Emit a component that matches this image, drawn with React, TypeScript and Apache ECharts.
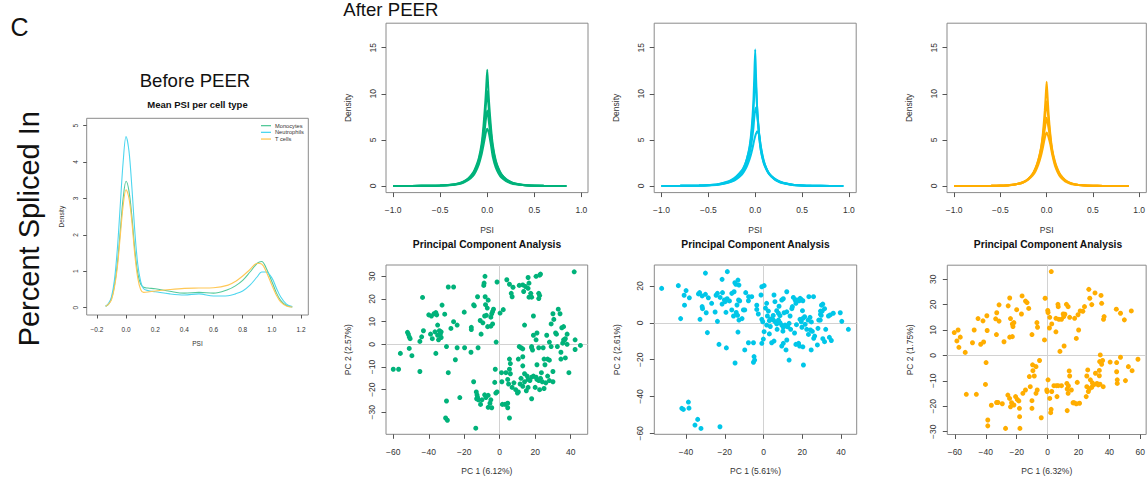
import { useEffect, useRef } from "react";
import * as echarts from "echarts";

const FONT = '"Liberation Sans", Arial, Helvetica, sans-serif';
const GREEN = "#00b27a";
const CYAN = "#00c6e8";
const ORANGE = "#ffad00";

// ---- Before PEER: density of mean PSI per cell type
const beforePsi = [
  -0.14, -0.12, -0.1, -0.08, -0.06, -0.04, -0.02, 0, 0.02, 0.04, 0.06, 0.08, 0.1, 0.12, 0.15, 0.2,
  0.3, 0.4, 0.5, 0.6, 0.7, 0.75, 0.8, 0.85, 0.9, 0.93, 0.96, 1.0, 1.03, 1.06, 1.1, 1.14,
];
const monocytesMean = [
  0.04, 0.1, 0.25, 0.6, 1.2, 2.1, 3.0, 3.47, 3.2, 2.5, 1.6, 0.95, 0.65, 0.56, 0.54, 0.52,
  0.45, 0.4, 0.42, 0.4, 0.5, 0.6, 0.75, 0.98, 1.22, 1.27, 1.1, 0.72, 0.42, 0.2, 0.06, 0.02,
];
const neutrophilsMean = [
  0.04, 0.12, 0.3, 0.75, 1.6, 2.8, 4.0, 4.7, 4.3, 3.3, 2.1, 1.2, 0.72, 0.52, 0.47, 0.44,
  0.38, 0.35, 0.38, 0.32, 0.33, 0.38, 0.46, 0.62, 0.85, 0.98, 0.98, 0.82, 0.55, 0.3, 0.1, 0.03,
];
const tCellsMean = [
  0.04, 0.1, 0.22, 0.55, 1.1, 1.95, 2.8, 3.24, 3.0, 2.35, 1.45, 0.82, 0.5, 0.42, 0.43, 0.46,
  0.5, 0.53, 0.54, 0.55, 0.62, 0.72, 0.87, 1.05, 1.22, 1.2, 1.0, 0.62, 0.35, 0.16, 0.05, 0.02,
];
const beforeXTicks = [-0.2, 0, 0.2, 0.4, 0.6, 0.8, 1.0, 1.2];
const beforeYTicks = [0, 1, 2, 3, 4, 5];

// ---- After PEER: per-sample PSI densities (representative curves)
const psiMonocytes = [
  -1, -0.8, -0.6, -0.5, -0.4, -0.3, -0.25, -0.2, -0.15, -0.12, -0.09, -0.06, -0.04, -0.02, -0.01, 0,
  0.01, 0.02, 0.04, 0.06, 0.09, 0.12, 0.15, 0.2, 0.25, 0.3, 0.4, 0.5, 0.6, 0.7, 0.84,
];
const psiNeutrophils = [
  -1, -0.8, -0.6, -0.5, -0.4, -0.3, -0.25, -0.2, -0.15, -0.12, -0.09, -0.06, -0.04, -0.02, -0.01, 0,
  0.01, 0.02, 0.04, 0.06, 0.09, 0.12, 0.15, 0.2, 0.25, 0.3, 0.4, 0.5, 0.6, 0.8, 0.94,
];
const psiTCells = [
  -1, -0.8, -0.6, -0.5, -0.4, -0.3, -0.25, -0.2, -0.15, -0.12, -0.09, -0.06, -0.04, -0.02, -0.01, 0,
  0.01, 0.02, 0.04, 0.06, 0.09, 0.12, 0.15, 0.2, 0.25, 0.3, 0.4, 0.5, 0.6, 0.75, 0.89,
];
const monocytesCurves = [
  [0, 0.005, 0.02, 0.05, 0.12, 0.3, 0.5, 0.85, 1.45, 2.1, 3.0, 4.6, 6.5, 9.2, 10.9, 12.6,
    10.8, 9.0, 6.3, 4.4, 2.8, 1.9, 1.3, 0.75, 0.45, 0.27, 0.1, 0.04, 0.015, 0.005, 0],
  [0, 0.005, 0.02, 0.05, 0.11, 0.28, 0.46, 0.78, 1.35, 1.95, 2.8, 4.2, 5.8, 8.0, 9.3, 10.3,
    9.2, 7.9, 5.7, 4.1, 2.65, 1.8, 1.25, 0.7, 0.42, 0.25, 0.09, 0.035, 0.012, 0.004, 0],
  [0, 0.005, 0.02, 0.045, 0.1, 0.25, 0.42, 0.72, 1.25, 1.8, 2.6, 3.8, 5.0, 6.7, 7.6, 8.2,
    7.6, 6.7, 5.1, 3.6, 2.3, 1.55, 1.05, 0.6, 0.36, 0.21, 0.08, 0.03, 0.01, 0.003, 0],
  [0, 0.004, 0.018, 0.04, 0.09, 0.22, 0.38, 0.65, 1.1, 1.6, 2.3, 3.4, 4.4, 5.5, 6.0, 6.2,
    6.0, 5.6, 4.4, 3.1, 2.0, 1.35, 0.9, 0.52, 0.3, 0.18, 0.07, 0.025, 0.008, 0.002, 0],
];
const neutrophilsCurves = [
  [0, 0.01, 0.04, 0.08, 0.16, 0.4, 0.6, 0.95, 1.5, 2.0, 2.9, 4.3, 6.0, 9.0, 11.8, 14.8,
    11.5, 8.6, 5.6, 3.9, 2.6, 1.85, 1.35, 0.85, 0.55, 0.35, 0.14, 0.06, 0.025, 0.005, 0],
  [0, 0.012, 0.045, 0.09, 0.18, 0.45, 0.68, 1.05, 1.6, 2.1, 2.9, 4.1, 5.6, 8.0, 10.0, 11.8,
    10.6, 8.6, 5.8, 3.9, 2.5, 1.75, 1.25, 0.78, 0.5, 0.32, 0.13, 0.055, 0.022, 0.005, 0],
  [0, 0.01, 0.04, 0.08, 0.15, 0.35, 0.52, 0.82, 1.3, 1.75, 2.45, 3.5, 4.6, 6.2, 7.4, 8.2,
    8.5, 7.8, 5.9, 4.2, 2.7, 1.85, 1.3, 0.8, 0.5, 0.32, 0.12, 0.05, 0.02, 0.004, 0],
  [0, 0.01, 0.035, 0.07, 0.14, 0.32, 0.48, 0.75, 1.15, 1.55, 2.1, 2.9, 3.6, 4.5, 5.0, 5.4,
    5.7, 5.95, 5.6, 4.3, 2.8, 1.9, 1.3, 0.75, 0.45, 0.28, 0.1, 0.04, 0.015, 0.003, 0],
];
const tCellsCurves = [
  [0, 0.004, 0.015, 0.035, 0.09, 0.24, 0.4, 0.72, 1.3, 1.9, 2.8, 4.2, 5.8, 8.2, 9.8, 11.3,
    9.7, 8.0, 5.6, 4.0, 2.65, 1.8, 1.2, 0.65, 0.36, 0.2, 0.07, 0.025, 0.01, 0.002, 0],
  [0, 0.004, 0.016, 0.04, 0.1, 0.26, 0.43, 0.76, 1.35, 1.95, 2.85, 4.1, 5.4, 7.2, 8.3, 9.2,
    8.3, 7.2, 5.3, 3.8, 2.5, 1.7, 1.15, 0.62, 0.34, 0.19, 0.065, 0.022, 0.008, 0.002, 0],
  [0, 0.004, 0.016, 0.04, 0.1, 0.27, 0.44, 0.76, 1.3, 1.85, 2.65, 3.75, 4.8, 6.2, 6.9, 7.4,
    6.9, 6.3, 5.0, 3.7, 2.4, 1.6, 1.05, 0.57, 0.31, 0.17, 0.06, 0.02, 0.007, 0.002, 0],
  [0, 0.004, 0.015, 0.035, 0.09, 0.24, 0.4, 0.68, 1.15, 1.6, 2.3, 3.3, 4.2, 5.2, 5.6, 5.8,
    5.6, 5.3, 4.5, 3.4, 2.2, 1.45, 0.95, 0.5, 0.27, 0.15, 0.05, 0.018, 0.006, 0.001, 0],
];
const densityXTicks = [-1, -0.5, 0, 0.5, 1];
const densityYTicks = [0, 5, 10, 15];

// ---- After PEER: PCA of samples
const pcaMonocytes: [number, number][] = [
  [-60, -11], [-57, -11], [-56, -4], [-52, 5.3], [-51.5, 4.5], [-51, 3.3], [-50.5, 2.5], [-51, -1.8],
  [-49.5, -5], [-45, -12], [-45, 1.3], [-44, 3.3], [-43, 6], [-43.5, 20.7], [-40, 13], [-39, 4.5],
  [-38.5, 12.5], [-38, 2.5], [-37, 13.5], [-36.5, 5.5], [-36, 14], [-36, -4], [-35.5, 13], [-35, 8.5],
  [-35, 4], [-34.5, 2], [-34, 6], [-33.5, 4.5], [-33, 3], [-32.5, 17.3], [-33, 5.5], [-31, 13.3],
  [-30, -1], [-30, -25], [-30.5, -32.5], [-29.5, -33.5], [-29, -12.5], [-29, 25.3], [-26, 25.3],
  [-27.5, 7], [-26, 10], [-24, 8.5], [-25, -6.8], [-24, -1.5], [-22.5, -23.5], [-20, 14.2],
  [-19.8, -1.5], [-16, 7.5], [-16, 6.5], [-16.2, -3.5], [-14.7, -16.5], [-14.7, 17.4], [-14.3, 17],
  [-12.5, 21], [-12.2, -1.5], [-13.5, -37], [-13.2, -21], [-12.8, -22.3], [-12.5, -23.3], [-13, -24],
  [-12, -24.5], [-10, -24.5], [-10.8, -26.5], [-8.5, -22.3], [-7.8, -23.5], [-6.5, -22.5],
  [-6.5, -27.8], [-4.5, -28], [-5.5, -26], [-5, -24.5], [-11, 10.5], [-9.5, 9.5], [-8.5, 12.5],
  [-7.5, 12.8], [-6.8, 7.8], [-10.5, 4.5], [-9, 26], [-8.3, 30], [-8.8, 27], [-8.2, 21], [-8, 17.5],
  [-6.5, 19.5], [-7, 16], [-5, 12], [-4.5, 13.5], [-3.5, 15.5], [-4, 14.5], [-4, 9], [-5, 8],
  [-2.2, -21.5], [-1.5, -21], [-2.5, -11], [-2, 1], [-1.5, 27.5], [-2.8, -16.8], [0.2, 13.8],
  [2, 15.3], [1, -12.5], [1.2, -16.5], [1.5, -26.5], [3, -26.5], [4.5, -26], [4.5, -28], [5.5, -32.5],
  [4, 28.5], [5.5, 26.5], [7.5, 25.2], [6.5, 22.5], [7, 21], [11, 26], [13, 26.2], [14.5, 25.5],
  [13.5, 23.3], [16, 29.5], [16.5, 27], [16, 24.7], [17.5, 22.5], [16.5, 20.8], [18, 20.8],
  [20.5, 30], [22.5, 30.5], [23, 31], [22, 22.5], [22.5, 21.5], [22, 20.2], [5.5, -6.5], [6, -8.5],
  [5.5, -11], [6, -13], [4.5, -15.5], [3.5, -12.5], [5, -17.5], [8, -17], [7, -19], [9, -20],
  [10.5, -21], [10, -21.5], [12, -15], [11.5, -17.5], [13, -18.5], [14, -16.5], [15, -20.5],
  [14, -13], [15.5, -14], [16, -15.5], [17, -16], [18, -14.5], [19, -14], [20.5, -14.5], [21, -15.5],
  [22, -16], [23, -15], [24, -16.5], [25, -19.5], [22.5, -20], [20, -19], [18, -24], [16, -19],
  [13, -9.5], [13, -5.5], [11, -1], [12, -1.5], [13, -2], [14, 8.5], [18, -1.5], [18.5, -2.5],
  [18, -1], [19, 12.5], [20.5, 2], [21, 5], [22, -1.5], [24.5, -1.5], [21, -9], [23.5, -12.5],
  [25.5, -9], [25, -6.5], [27, -6.5], [28, -7], [28, 1], [26.5, 4], [29, 9], [30, 13.5], [32, 4.5],
  [31.5, 5], [33, 15.5], [34, 13.5], [35, 7.3], [34.5, -3.5], [34.5, -6.5], [35.5, 0.5], [36, 2],
  [36, 7.8], [36.5, 1.8], [37, 2.5], [37, -6], [38, 0], [38, 4.5], [39, -12.5], [42, 32], [42.5, 2],
  [42.5, -2.3], [45.5, -0.5], [30, -12], [30, -16.5], [27, -14], [26, -17], [28, -16], [10.5, -6.5],
  [29, -1], [32.5, -1], [30.5, 11], [19, 4],
];
const pcaNeutrophils: [number, number][] = [
  [-52.6, 18.7], [-44, 20.2], [-41, 15], [-40, 17.5], [-40.8, 9.6], [-38.3, 13.6], [-42.8, 2.3],
  [-33.6, 15.7], [-33, 16.4], [-31.7, 14.6], [-31.7, 8.8], [-31.5, 7.7], [-29.6, 5.5], [-30, 15.5],
  [-28.5, 13.6], [-32.8, 1.9], [-30, 27], [-29, -5.3], [-26.8, 10.6], [-24.5, 15], [-23.8, 16],
  [-22.4, 13.8], [-21.2, 16.4], [-20.2, 12.4], [-19.8, 11.5], [-21.4, 10.2], [-18.8, 13.1],
  [-23.8, 0.8], [-25, 5.9], [-23, -11.7], [-21.4, 23.6], [-18.7, 27.8], [-19.4, 5.7], [-19.2, -13.6],
  [-17.6, 11.9], [-16.4, 16], [-15.2, 16.9], [-14.8, 21.8], [-14.3, 20.9], [-13.2, 23.2],
  [-12.7, 20.5], [-12.9, 12.4], [-12.3, 11.9], [-13.7, 9.7], [-16.4, 7], [-15.5, 3.7], [-14.1, 5.6],
  [-13.4, 4.1], [-12.7, 1.5], [-13.2, -5], [-14.7, -21.8], [-11.1, 2.3], [-10.4, 7], [-9.7, 7],
  [-9.2, 16.4], [-9.7, -14.7], [-7.8, -10.8], [-5.2, -10.8], [-7.7, 14.2], [-7.8, 12], [-6.1, 14.2],
  [-4.9, -18.3], [-5.2, -21.4], [-4.6, -20.2], [-3.5, 9.6], [-3.5, 7.3], [-2.7, 4.8], [-0.9, 19.6],
  [0.3, 20.2], [-1.3, 15.1], [-0.9, 1.9], [-0.4, 0.6], [-0.1, -8.8], [-0.9, -11.1], [0.3, -4.8],
  [1.6, 10.6], [2.5, 6.4], [2, 3.7], [1.6, -1.2], [3, 1.2], [3.7, 2.1], [5.1, 1.5], [6.1, 0.5],
  [6.8, -0.6], [5.4, 15.1], [5.9, 11.5], [6.8, 6.6], [7.7, 5.2], [8.5, 3.9], [9.4, 12.4],
  [10.2, 13.1], [4.2, -10.8], [5.4, -9.9], [9.4, -12.6], [10.2, -11.1], [11.6, -14.7], [12, -9.3],
  [13.2, -20.2], [7.7, 1.5], [8.5, 0.1], [9.4, -1.2], [10.2, -2.4], [11.1, -1.2], [12, -1.7],
  [12.5, -2.1], [13.2, -0.3], [13.7, 3.7], [14.6, 7.7], [14.9, 8.8], [12, 6], [10.6, 5.5], [12, 16.9],
  [15.4, 13.8], [16.3, 12.4], [16.7, 10.6], [16.7, -11.7], [18.1, -11.1], [18.6, -12.6],
  [19.8, -2.4], [20.3, -13], [20.6, -22.9], [17.2, 12.4], [18.4, 12], [18.9, 13.3], [19.4, 12.7],
  [20.1, 6.6], [20.3, 12], [18.8, 1.9], [19.5, 0.6], [20.3, 2.4], [21.2, 3.3], [21.5, -0.8],
  [22.3, -3.5], [23, 1.5], [23.2, -6.3], [24.2, -3.9], [25.2, -4.6], [25.9, -8.4], [24.7, 0.5],
  [24, 3], [23.4, 14.2], [25.8, 14.2], [24.6, -14.7], [27.8, -12], [26.4, -7.2], [28.5, 1.5],
  [29.4, 4.6], [29.4, 6.4], [30.6, 10.2], [29.9, 9.6], [31.5, 7.7], [30.3, 6.4], [29.8, 4.1],
  [29.3, 1.5], [28.1, -3], [30.6, -8.6], [31.5, -10.2], [32.1, -3.5], [33.5, 3.7], [34.4, 4.3],
  [35, -9.6], [34, -7.9], [36, 5.2], [39.6, 5.5], [40.4, 0.8], [43.8, -3.5], [3.5, -2], [7, -3.5],
  [10, -4.5], [14, -3.5], [16, -5.5], [17, -1], [5, 4], [1, 8], [8, 9], [3, -6],
  [-42.2, -46.4], [-41.4, -47], [-38.8, -43], [-38.5, -46.3], [-34, -52.4], [-35.4, -55.5],
  [-32.3, -57.3], [-22.5, -56.4],
];
const pcaTCells: [number, number][] = [
  [-60.4, 9], [-58.7, 5.7], [-57.9, 10], [-57.4, 3.2], [-56.5, 7.2], [-53.3, 1.2], [-52.6, -15.3],
  [-48.6, 5], [-47.5, 10], [-46.1, -15.3], [-45, 14.5], [-43.3, 4.4], [-41.8, 13.6], [-41.4, 5.3],
  [-39.1, 9.8], [-39.3, 15.6], [-39.8, -2.8], [-38.7, -27.7], [-38.7, -25.4], [-40.2, -11.4],
  [-36.4, -19.6], [-33.6, 14.4], [-32.9, 16.8], [-31.4, 13.5], [-33.1, 8.2], [-31.4, 19.9],
  [-32.1, -18.5], [-29.3, -19], [-28.2, 5.4], [-27.2, -28.7], [-25.7, -15.6], [-24.6, -16.9],
  [-24, -20.2], [-23.3, -18.6], [-21.8, -19.5], [-25.5, 19.5], [-24.5, 22.6], [-24, 14.5],
  [-22.8, 12.4], [-22.4, 11.4], [-21.8, 12.9], [-22.8, 7.4], [-24.5, 7.2], [-20.7, -16.2],
  [-19.6, -17.3], [-18.6, -17.9], [-18.2, -20.8], [-20, 18], [-17.9, -28.7], [-18.1, -24.1],
  [-16.9, 16.3], [-16.5, 23.4], [-14.3, 21.4], [-13.3, 20.8], [-12.2, 18.5], [-16, -14.9],
  [-14.3, -13.6], [-11.8, -8.3], [-11.2, -12.3], [-10.1, -17.8], [-10.1, -20.8], [-10.1, 8.2],
  [-9.7, -3.7], [-9.5, -6], [-8.6, -8.1], [-7.5, -4.4], [-7.5, -14.9], [-6.9, 12.9], [-6.5, 11.1],
  [-6.7, -13.6], [-5.2, -2], [-4.1, -24.5], [-2, 6.1], [-1.6, 22.5], [0.1, 17.7], [0.3, 16.9],
  [1.4, 15], [1.2, 10.8], [2.7, 12.4], [-0.5, -13.6], [-0.3, -14.2], [0.3, -9.6], [1.4, -16.9],
  [2, -22.5], [2.3, -21.2], [2.7, -14.2], [2.4, 33], [5.4, 9.3], [5.4, 14.6], [6.1, -16.2],
  [4.1, -11.9], [5.8, -11.9], [6.9, -11.9], [9, -11.9], [6.7, 20.1], [6.9, 19.2], [7.3, 14.2],
  [8, 1.6], [9, 14.2], [10.5, 15.3], [11.2, 16.2], [10.1, 16.3], [10.7, 3.7], [12.2, 20.1],
  [13.3, 19.2], [14.3, 15], [12.5, -11], [12.7, -13.2], [13.3, -14.9], [13.5, -12], [14, -6.1],
  [14.3, -8.1], [12.7, -21.7], [15.4, -13.6], [16.5, -18.6], [17.1, -18.6], [17.5, 14.6],
  [18.6, 6.7], [19.2, -10.6], [20.1, 10], [18.6, -19], [19.7, 16], [20.7, -18.8], [21.1, 17.5],
  [22.8, 17.4], [23.9, 19.2], [25, -16.2], [25.4, -12.3], [25.4, -8.1], [26, -5.7], [26.4, -14.2],
  [27.1, -13.1], [27.7, -9.6], [28.6, -12.5], [26.7, 26], [27.3, 22.5], [28.6, 20], [30.7, 24.6],
  [32, -11], [32.8, -11.6], [33.5, -5.9], [33.5, -8], [33.9, -11.3], [34.6, 23.6], [35, 20.5],
  [34.1, 0.2], [33.7, -2.4], [35, -3.5], [35.6, -2], [36, -12.3], [36.2, 14.2], [36.6, 15.3],
  [40.5, -2.6], [44.7, -2.8], [44.7, -6.4], [45.1, -9.6], [45.1, -11], [47.2, -0.7], [44.5, 18.2],
  [47.2, 16.6], [49.7, 14], [50.4, -9.9], [52.3, -4.4], [54.2, 17.5], [54.7, -6], [58.5, -1.5],
  [30, -11.5], [29, -10.8], [31, -7], [-33, -18.5],
];
const pcaMonocytesXTicks = [-60, -40, -20, 0, 20, 40];
const pcaMonocytesYTicks = [-30, -20, -10, 0, 10, 20, 30];
const pcaNeutrophilsXTicks = [-40, -20, 0, 20, 40];
const pcaNeutrophilsYTicks = [-60, -40, -20, 0, 20];
const pcaTCellsXTicks = [-60, -40, -20, 0, 20, 40, 60];
const pcaTCellsYTicks = [-30, -20, -10, 0, 10, 20, 30];

const fmt = (dec: number) => (v: number) => (v < 0 ? "\u2212" : "") + Math.abs(v).toFixed(dec);

type Panel = {
  l: number; t: number; w: number; h: number;
  x: [number, number]; y: [number, number];
  xt: number[]; yt: number[]; xd: number; yd: number;
  xn: string; yn: string; fs: number;
  xm: number; ym: number; xg: number; yg: number; tl: number;
};

const panels: Panel[] = [
  { l: 86.7, t: 118.3, w: 221.6, h: 196.7, x: [-0.27, 1.25], y: [-0.2, 5.2], xt: beforeXTicks, yt: beforeYTicks, xd: 1, yd: 0, xn: "PSI", yn: "Density", fs: 6.5, xm: 10.5, ym: 8, xg: 24.5, yg: 21.5, tl: 3.5 },
  { l: 386, t: 23.2, w: 202, h: 169.4, x: [-1.075, 1.07], y: [-0.72, 17.66], xt: densityXTicks, yt: densityYTicks, xd: 1, yd: 0, xn: "PSI", yn: "Density", fs: 8.5, xm: 13, ym: 8.5, xg: 32.5, yg: 33.5, tl: 4.5 },
  { l: 654.2, t: 23.2, w: 202, h: 169.4, x: [-1.078, 1.078], y: [-0.72, 17.66], xt: densityXTicks, yt: densityYTicks, xd: 1, yd: 0, xn: "PSI", yn: "Density", fs: 8.5, xm: 13, ym: 8.5, xg: 32.5, yg: 33.5, tl: 4.5 },
  { l: 947, t: 23.2, w: 202, h: 169.4, x: [-1.078, 1.078], y: [-0.72, 17.66], xt: densityXTicks, yt: densityYTicks, xd: 1, yd: 0, xn: "PSI", yn: "Density", fs: 8.5, xm: 13, ym: 8.5, xg: 32.5, yg: 33.5, tl: 4.5 },
  { l: 386, t: 265, w: 201.7, h: 169.3, x: [-64.1, 49.6], y: [-39.7, 35], xt: pcaMonocytesXTicks, yt: pcaMonocytesYTicks, xd: 0, yd: 0, xn: "PC 1 (6.12%)", yn: "PC 2 (2.57%)", fs: 8.5, xm: 13, ym: 9.5, xg: 32, yg: 33.5, tl: 4.5 },
  { l: 654.3, t: 265, w: 202.4, h: 169.3, x: [-56.4, 48.1], y: [-60.5, 31.4], xt: pcaNeutrophilsXTicks, yt: pcaNeutrophilsYTicks, xd: 0, yd: 0, xn: "PC 1 (5.61%)", yn: "PC 2 (2.61%)", fs: 8.5, xm: 13, ym: 9.5, xg: 32, yg: 33, tl: 4.5 },
  { l: 947.3, t: 265.2, w: 202, h: 169.3, x: [-64.9, 63.8], y: [-31.1, 35.5], xt: pcaTCellsXTicks, yt: pcaTCellsYTicks, xd: 0, yd: 0, xn: "PC 1 (6.32%)", yn: "PC 2 (1.75%)", fs: 8.5, xm: 13, ym: 9.5, xg: 32, yg: 33, tl: 4.5 },
];

const zip = (xs: number[], ys: number[]) => xs.map((x, i) => [x, ys[i]]);

export default function App() {
  const ref = useRef<HTMLDivElement>(null);

  useEffect(() => {
    const el = ref.current;
    if (!el) return;
    const chart = echarts.init(el, undefined, { renderer: "svg" });

    const textStyle = (fs: number) => ({ fontSize: fs, fontFamily: FONT, color: "#333" });

    const grid = panels.map((p) => ({
      left: p.l, top: p.t, width: p.w, height: p.h,
      show: true, borderColor: "#8a8a8a", borderWidth: 1, backgroundColor: "transparent",
    }));
    const xAxis = panels.map((p, i) => ({
      gridIndex: i, type: "value", min: p.x[0], max: p.x[1], position: "bottom",
      axisLine: { show: false, onZero: false },
      splitLine: { show: false },
      axisTick: { show: true, customValues: p.xt, length: p.tl, lineStyle: { color: "#555", width: 1 } },
      axisLabel: { customValues: p.xt, formatter: fmt(p.xd), margin: p.xm, ...textStyle(p.fs) },
      name: p.xn, nameLocation: "middle", nameGap: p.xg, nameTextStyle: textStyle(p.fs),
    }));
    const yAxis = panels.map((p, i) => ({
      gridIndex: i, type: "value", min: p.y[0], max: p.y[1], position: "left",
      axisLine: { show: false, onZero: false },
      splitLine: { show: false },
      axisTick: { show: true, customValues: p.yt, length: p.tl, lineStyle: { color: "#555", width: 1 } },
      axisLabel: { customValues: p.yt, formatter: fmt(p.yd), margin: p.ym, rotate: 90, ...textStyle(p.fs) },
      name: p.yn, nameLocation: "middle", nameGap: p.yg, nameTextStyle: textStyle(p.fs),
    }));

    const beforeLine = (name: string, ys: number[], color: string) => ({
      name, type: "line", xAxisIndex: 0, yAxisIndex: 0, data: zip(beforePsi, ys),
      showSymbol: false, smooth: 0.35, color, lineStyle: { color, width: 1.1 },
    });
    const densityLines = (idx: number, xs: number[], curves: number[][], color: string) =>
      curves.map((ys, k) => ({
        name: `density-${idx}-${k}`, type: "line", xAxisIndex: idx, yAxisIndex: idx,
        data: zip(xs, ys), showSymbol: false, smooth: 0.2,
        lineStyle: { color, width: 2 }, itemStyle: { color },
      }));
    const pca = (idx: number, pts: [number, number][], color: string) => [
      {
        name: `cross-${idx}`, type: "scatter", xAxisIndex: idx, yAxisIndex: idx, data: [], silent: true, z: 1,
        markLine: {
          silent: true, z: 1, symbol: ["none", "none"], label: { show: false },
          lineStyle: { color: "#d2d2d2", width: 1, type: "solid" },
          data: [{ xAxis: 0 }, { yAxis: 0 }],
        },
      },
      {
        name: `pca-${idx}`, type: "scatter", xAxisIndex: idx, yAxisIndex: idx, data: pts, z: 2,
        symbolSize: 5, itemStyle: { color, opacity: 1 },
      },
    ];

    const series = [
      beforeLine("Monocytes", monocytesMean, "#55c99a"),
      beforeLine("Neutrophils", neutrophilsMean, "#4dd6ef"),
      beforeLine("T cells", tCellsMean, "#ffc857"),
      ...densityLines(1, psiMonocytes, monocytesCurves, GREEN),
      ...densityLines(2, psiNeutrophils, neutrophilsCurves, CYAN),
      ...densityLines(3, psiTCells, tCellsCurves, ORANGE),
      ...pca(4, pcaMonocytes, GREEN),
      ...pca(5, pcaNeutrophils, CYAN),
      ...pca(6, pcaTCells, ORANGE),
    ];

    const label = (text: string, x: number, y: number, fs: number, opts: Record<string, unknown> = {}) => ({
      type: "text", x, y, silent: true,
      style: {
        text, fill: "#111", fontSize: fs, fontFamily: FONT,
        align: "center", verticalAlign: "middle", textAlign: "center", textVerticalAlign: "middle",
        ...opts,
      },
    });

    chart.setOption({
      animation: false,
      backgroundColor: "#fff",
      grid, xAxis, yAxis, series,
      legend: {
        data: ["Monocytes", "Neutrophils", "T cells"],
        orient: "vertical", left: 261, top: 122.3, padding: 0, itemGap: 0,
        itemWidth: 10, itemHeight: 1.3, icon: "rect",
        textStyle: { fontSize: 5.7, fontFamily: FONT, color: "#333", lineHeight: 6.7, padding: [0, 0, 0, -1] },
        selectedMode: false,
      },
      graphic: [
        label("C", 10.5, 27.3, 25, { align: "left", textAlign: "left" }),
        { ...label("Percent Spliced In", 0, 0, 29), x: 29, y: 228.7, rotation: Math.PI / 2 },
        label("Before PEER", 195, 80.9, 18.6),
        label("After PEER", 343.3, 9.6, 18.6, { align: "left", textAlign: "left" }),
        label("Mean PSI per cell type", 197.5, 104, 9.5, { fontWeight: "bold" }),
        label("Principal Component Analysis", 487, 244.7, 10.3, { fontWeight: "bold" }),
        label("Principal Component Analysis", 755.5, 244.7, 10.3, { fontWeight: "bold" }),
        label("Principal Component Analysis", 1048, 244.7, 10.3, { fontWeight: "bold" }),
      ],
    });

    return () => chart.dispose();
  }, []);

  return (
    <div
      ref={ref}
      style={{ position: "fixed", left: 0, top: 0, width: 1148, height: 481, background: "#fff" }}
    />
  );
}
